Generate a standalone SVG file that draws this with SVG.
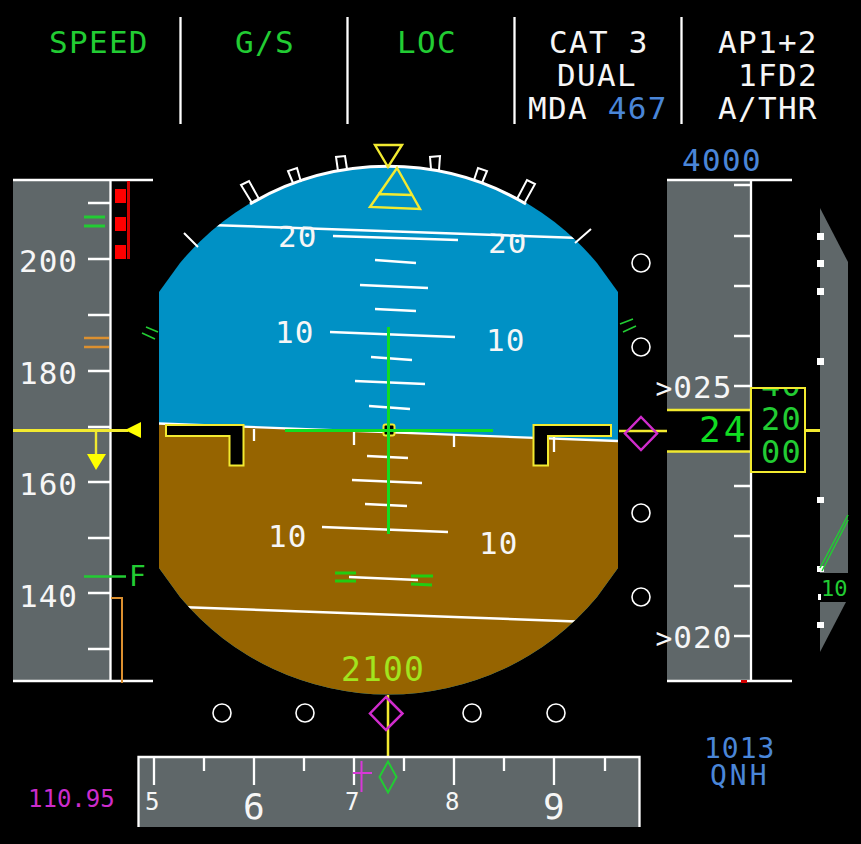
<svg xmlns="http://www.w3.org/2000/svg" width="861" height="844" viewBox="0 0 861 844">
<style>
text{font-family:"DejaVu Sans Mono","Liberation Mono",monospace}
.w{fill:#f6f6f6}.g{fill:#22cc33}.b{fill:#4a86d8}
.f33{font-size:31px;letter-spacing:1.3px}.f32{font-size:31px;letter-spacing:1px}
.lw{stroke:#fff;stroke-width:2.300;fill:none}
.ly{stroke:#f2ea30;stroke-width:2.400;fill:none}
.tk{stroke:#fff;stroke-width:2;fill:none}
.ci{stroke:#fff;stroke-width:1.600;fill:none}
.mg{stroke:#d02ccc;stroke-width:2.500;fill:none}
.tape{fill:#5f6769}
</style>
<defs>
<clipPath id="ball"><path d="M159 292L180 263A271.500 271.500 0 0 1 597 263L618 292V568L597 597A271.500 271.500 0 0 1 180 597L159 568Z"/></clipPath>
<clipPath id="below"><path d="M159 221L618 238V300H159Z"/></clipPath>
<clipPath id="drum"><rect x="752" y="389" width="52" height="82"/></clipPath>
</defs>
<rect width="861" height="844" fill="#000"/>
<g id="fma">
<path class="lw" d="M180.500 17V124M347.500 17V124M514.500 17V124M681.500 17V124"/>
<text class="g f33" x="49" y="53">SPEED</text>
<text class="g f33" x="235" y="53">G/S</text>
<text class="g f33" x="397" y="53">LOC</text>
<text class="w f33" x="549" y="53">CAT 3</text>
<text class="w f33" x="557" y="86">DUAL</text>
<text class="w f33" x="528" y="119">MDA <tspan class="b">467</tspan></text>
<text class="w f33" x="718" y="53">AP1+2</text>
<text class="w f33" x="738" y="86">1FD2</text>
<text class="w f33" x="718" y="119">A/THR</text>
</g>
<g id="attitude">
<g clip-path="url(#ball)">
<rect x="150" y="160" width="480" height="540" fill="#0091c5"/>
<path d="M159 424L618 441V700H159Z" fill="#966400"/>
<path class="lw" d="M159 423.500L618 441"/>
<path d="M210 225L580 238M180 607L590 622" stroke="#fff" stroke-width="2.500" fill="none"/>
</g>
<path class="lw" d="M333 236L458 240M375 260L416 263M360 285L428 288M375 309L416 311M330 332L455 337M371 357L412 360M355 381L425 384M369 406L410 409M367 456L408 458M352 480L422 483M365 504L407 506M322 527L448 532M349 577L418 580M254 429V441M354 431V445M454 435V447M554 437V452"/>
<g clip-path="url(#below)">
<text class="w f32" x="278" y="247">20</text>
<text class="w f32" x="488" y="253">20</text>
</g>
<text class="w f32" x="275" y="343">10</text>
<text class="w f32" x="486" y="351">10</text>
<text class="w f32" x="268" y="547">10</text>
<text class="w f32" x="479" y="554">10</text>
<path d="M335 573H356M335 581H356M411 576H433M411 584L432 585" stroke="#22cc11" stroke-width="3" fill="none"/>
<text x="341" y="681" font-size="33" letter-spacing="1.100" fill="#a2e41e">2100</text>
<path id="left-wing" d="M166 425H243.500V465.500H229.500V436H166Z" fill="#000" stroke="#f2ea30" stroke-width="2"/>
<path id="right-wing" d="M533.500 425H611V436H548V465.500H533.500Z" fill="#000" stroke="#f2ea30" stroke-width="2"/>
<rect x="383.500" y="424.500" width="11" height="11" rx="2" fill="#000" stroke="#f2ea30" stroke-width="2"/>
<path d="M388.500 327V534M285 430.500H493" stroke="#11dd22" stroke-width="3" fill="none"/>
</g>
<g id="roll-scale">
<path d="M250 204A271.500 271.500 0 0 1 526 204" stroke="#fff" stroke-width="3" fill="none"/>
<path class="tk" d="M184 233L198 247M575 243L591 229"/>
<path class="tk" d="M252 203L241 185L249 181L259 199M293 183L288 171L297 168L301 182M338 171L336 157L345 156L347 169M431 169L430 157L440 156L439 170M474 180L478 168L487 171L482 183M517 199L527 180L535 184L525 202"/>
<path d="M146 327L158 332M142 333L155 339M620 324L633 319M623 332L636 326" stroke="#22cc33" stroke-width="1.600" fill="none"/>
<path class="ly" d="M375 145H402L388 167ZM397 168L370 207L420 209ZM378 194L413 195"/>
</g>
<g id="speed-tape">
<rect class="tape" x="13" y="180" width="97" height="501"/>
<path class="lw" d="M13 180H153M13 681H153M110.500 180V681M88 203H110M88 259H110M88 315H110M88 371H110M88 427H110M88 482H110M88 538H110M88 593H110M88 649H110"/>
<text class="w f32" x="19" y="272">200</text>
<text class="w f32" x="19" y="384">180</text>
<text class="w f32" x="19" y="495">160</text>
<text class="w f32" x="19" y="607">140</text>
<path d="M84 217H105M84 226H105" stroke="#22cc33" stroke-width="3" fill="none"/>
<path d="M84 338H109M84 347H109" stroke="#dc9030" stroke-width="2.500" fill="none"/>
<path d="M115 189H126V203H115ZM115 217H126V231H115ZM115 245H126V259H115Z" fill="#f00"/>
<path d="M128.500 181V259" stroke="#d40000" stroke-width="3" fill="none"/>
<path d="M13 430.500H128" stroke="#f2ea30" stroke-width="3" fill="none"/>
<path d="M96 431V456" class="ly"/>
<path d="M141 422V438L125 430ZM87 454H106L96 470Z" fill="#ff0"/>
<path d="M84 576.500H126" stroke="#22cc33" stroke-width="2.500" fill="none"/>
<text class="g" x="129" y="586" font-size="28">F</text>
<path d="M111 598H122V683" stroke="#dc9030" stroke-width="2" fill="none"/>
</g>
<g id="altitude-tape">
<rect class="tape" x="667" y="180" width="83" height="501"/>
<rect x="667" y="410" width="84" height="41" fill="#000"/>
<path class="ly" d="M667 410H750M667 451.500H750M619 431H667"/>
<path class="lw" d="M667 180H792M667 681H792M751 180V681M734 185H750M734 236H750M734 286H750M734 336H750M734 386H750M734 486H750M734 536H750M734 586H750M734 636H750"/>
<rect x="741" y="680" width="6" height="3" fill="#d40000"/>
<text class="b f33" x="682" y="171">4000</text>
<text class="w f32" x="655.500" y="398"><tspan font-size="28">&gt;</tspan>025</text>
<text class="w f32" x="655.500" y="648"><tspan font-size="28">&gt;</tspan>020</text>
<text x="699" y="442" font-size="36" letter-spacing="3" fill="#11dd22">24</text>
<rect x="751" y="388" width="54" height="84" fill="#000" stroke="#f2ea30" stroke-width="2"/>
<g clip-path="url(#drum)">
<text x="761" y="396" font-size="32" letter-spacing="1.200" fill="#22cc33">40</text>
<text x="761" y="430" font-size="32" letter-spacing="1.200" fill="#22cc33">20</text>
<text x="761" y="463" font-size="32" letter-spacing="1.200" fill="#22cc33">00</text>
</g>
<path d="M806 430.500H820" stroke="#f2ea30" stroke-width="3" fill="none"/>
</g>
<g id="vs-scale">
<path class="tape" d="M820 208L848 262V573H820Z"/>
<path class="tape" d="M820 602H846L820 652Z"/>
<path d="M817 233H824V240H817ZM817 260H824V267H817ZM817 288H824V295H817ZM817 358H824V365H817ZM817 497H824V503H817ZM817 566H824V572H817ZM818 594H821V600H818ZM817 622H824V628H817Z" fill="#fff"/>
<path d="M820 568L848 515M822 571L848 520" stroke="#22cc33" stroke-width="1.500" fill="none"/>
<text class="g" x="821" y="596" font-size="22">10</text>
</g>
<g id="deviation">
<circle class="ci" cx="641" cy="263" r="9"/><circle class="ci" cx="641" cy="347" r="9"/><circle class="ci" cx="641" cy="513" r="9"/><circle class="ci" cx="641" cy="597" r="9"/>
<circle class="ci" cx="222" cy="713" r="9"/><circle class="ci" cx="305" cy="713" r="9"/><circle class="ci" cx="472" cy="713" r="9"/><circle class="ci" cx="556" cy="713" r="9"/>
<path d="M388 695V757" stroke="#f2ea30" stroke-width="2.500" fill="none"/>
<path class="mg" d="M641 417L657 433.500L641 450L625 433.500Z"/>
<path class="mg" d="M386 697L402.500 713.500L386 730L370 713.500Z"/>
</g>
<g id="heading-tape">
<rect class="tape" x="138" y="757" width="502" height="70"/>
<path class="lw" d="M138.500 827V757H639.500V827M154 757V785M254 757V785M354 757V785M454 757V785M554 757V785M204 757V771M304 757V771M404 757V771M504 757V771M605 757V771"/>
<text class="w" x="145" y="810" font-size="24">5</text>
<text class="w" x="243" y="819" font-size="36">6</text>
<text class="w" x="345" y="810" font-size="24">7</text>
<text class="w" x="445" y="810" font-size="24">8</text>
<text class="w" x="543" y="819" font-size="36">9</text>
<path d="M361.500 761V792M353 773H372" stroke="#d838d8" stroke-width="2" fill="none"/>
<path d="M388 761.500L396.500 777L388 792.500L379.500 777Z" stroke="#22cc33" stroke-width="2" fill="none"/>
</g>
<g id="readouts">
<text x="28" y="807" font-size="24" fill="#cc2ccc">110.95</text>
<text class="b" x="704" y="758" font-size="28" letter-spacing="1">1013</text>
<text class="b" x="710" y="785" font-size="28" letter-spacing="3">QNH</text>
</g>
</svg>
